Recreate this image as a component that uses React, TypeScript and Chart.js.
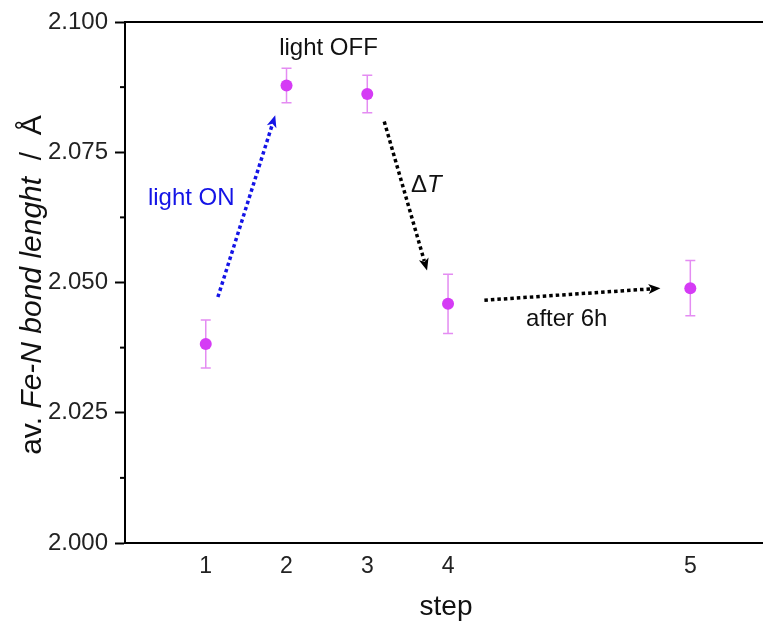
import React, { useEffect, useRef } from "react";
import { Chart, registerables } from "chart.js";

Chart.register(...registerables);

// x positions on the linear "step" axis and their printed labels
const stepPositions = [1, 2, 3, 4, 7];
const stepLabels = ["1", "2", "3", "4", "5"];

// average Fe-N bond length (Å) and its error
const bondLength = [2.0382, 2.0878, 2.0862, 2.0459, 2.0489];
const bondError = [0.0046, 0.0033, 0.0036, 0.0057, 0.0053];

const yTicks = [2.0, 2.025, 2.05, 2.075, 2.1];
const yMinorTicks = [2.0125, 2.0375, 2.0625, 2.0875];

// annotation arrows in data coordinates: [x0, y0, x1, y1]
const arrowBlue = [1.15, 2.0472, 1.86, 2.0821];
const arrowDeltaT = [3.21, 2.0809, 3.74, 2.0523];
const arrowAfter = [4.45, 2.0466, 6.63, 2.0489];

// annotation labels in data coordinates
const labelLightOn = [0.82, 2.0661];
const labelLightOff = [2.52, 2.0949];
const labelDeltaT = [3.73, 2.0687];
const labelAfter = [5.47, 2.043];

const FONT = "'Liberation Sans', Arial, sans-serif";

const decorPlugin = {
  id: "decor",
  beforeDatasetsDraw(chart: any) {
    const { ctx, scales } = chart;
    const xs = scales.x;
    const ys = scales.y;
    ctx.save();
    ctx.strokeStyle = "#e48cf2";
    ctx.lineWidth = 1.5;
    bondLength.forEach((v, i) => {
      const px = xs.getPixelForValue(stepPositions[i]);
      const top = ys.getPixelForValue(v + bondError[i]);
      const bot = ys.getPixelForValue(v - bondError[i]);
      ctx.beginPath();
      ctx.moveTo(px, top);
      ctx.lineTo(px, bot);
      ctx.moveTo(px - 5, top);
      ctx.lineTo(px + 5, top);
      ctx.moveTo(px - 5, bot);
      ctx.lineTo(px + 5, bot);
      ctx.stroke();
    });
    ctx.restore();
  },
  afterDraw(chart: any) {
    const { ctx, scales, chartArea } = chart;
    const xs = scales.x;
    const ys = scales.y;
    ctx.save();
    // top frame line
    ctx.strokeStyle = "#000";
    ctx.lineWidth = 2;
    ctx.beginPath();
    ctx.moveTo(chartArea.left - 1, chartArea.top);
    ctx.lineTo(chartArea.right, chartArea.top);
    ctx.stroke();
    // minor ticks
    yMinorTicks.forEach((v) => {
      const py = ys.getPixelForValue(v);
      ctx.beginPath();
      ctx.moveTo(chartArea.left - 5, py);
      ctx.lineTo(chartArea.left, py);
      ctx.stroke();
    });

    const drawArrow = (a: number[], color: string) => {
      const x0 = xs.getPixelForValue(a[0]);
      const y0 = ys.getPixelForValue(a[1]);
      const x1 = xs.getPixelForValue(a[2]);
      const y1 = ys.getPixelForValue(a[3]);
      const ang = Math.atan2(y1 - y0, x1 - x0);
      const head = 12;
      const hw = 5;
      const bx = x1 - head * Math.cos(ang);
      const by = y1 - head * Math.sin(ang);
      ctx.save();
      ctx.strokeStyle = color;
      ctx.fillStyle = color;
      ctx.lineWidth = 3.5;
      ctx.setLineDash([3.5, 3]);
      ctx.beginPath();
      ctx.moveTo(x0, y0);
      ctx.lineTo(bx + 2 * Math.cos(ang), by + 2 * Math.sin(ang));
      ctx.stroke();
      ctx.setLineDash([]);
      ctx.beginPath();
      ctx.moveTo(x1, y1);
      ctx.lineTo(bx + hw * Math.sin(ang), by - hw * Math.cos(ang));
      ctx.lineTo(bx + 3 * Math.cos(ang), by + 3 * Math.sin(ang));
      ctx.lineTo(bx - hw * Math.sin(ang), by + hw * Math.cos(ang));
      ctx.closePath();
      ctx.fill();
      ctx.restore();
    };
    drawArrow(arrowBlue, "#1414e6");
    drawArrow(arrowDeltaT, "#000");
    drawArrow(arrowAfter, "#000");

    const drawLabel = (p: number[], parts: [string, string][], color: string) => {
      const px = xs.getPixelForValue(p[0]);
      const py = ys.getPixelForValue(p[1]);
      ctx.save();
      ctx.fillStyle = color;
      ctx.textBaseline = "middle";
      ctx.textAlign = "left";
      let total = 0;
      parts.forEach(([t, f]) => {
        ctx.font = f;
        total += ctx.measureText(t).width;
      });
      let cx = px - total / 2;
      parts.forEach(([t, f]) => {
        ctx.font = f;
        ctx.fillText(t, cx, py);
        cx += ctx.measureText(t).width;
      });
      ctx.restore();
    };
    const reg = `24px ${FONT}`;
    const ital = `italic 24px ${FONT}`;
    drawLabel(labelLightOn, [["light ON", reg]], "#1414e6");
    drawLabel(labelLightOff, [["light OFF", reg]], "#111");
    drawLabel(labelDeltaT, [["\u0394", reg], ["T", ital]], "#111");
    drawLabel(labelAfter, [["after 6h", reg]], "#111");

    // y axis title (mixed styles)
    const yReg = `30px ${FONT}`;
    const yIt = `italic 30px ${FONT}`;
    const parts: [string, string][] = [
      ["av. ", yReg],
      ["Fe-N bond lenght", yIt],
      ["  /  \u00C5", yReg],
    ];
    ctx.save();
    ctx.translate(33, 285);
    ctx.rotate(-Math.PI / 2);
    ctx.fillStyle = "#111";
    ctx.textBaseline = "middle";
    ctx.textAlign = "left";
    let total = 0;
    parts.forEach(([t, f]) => {
      ctx.font = f;
      total += ctx.measureText(t).width;
    });
    let cx = -total / 2;
    parts.forEach(([t, f]) => {
      ctx.font = f;
      ctx.fillText(t, cx, 0);
      cx += ctx.measureText(t).width;
    });
    ctx.restore();

    // x axis title
    ctx.fillStyle = "#111";
    ctx.font = `28px ${FONT}`;
    ctx.textAlign = "center";
    ctx.textBaseline = "middle";
    ctx.fillText("step", 446, 607);
    ctx.restore();
  },
};

export default function App() {
  const ref = useRef<HTMLCanvasElement>(null);
  useEffect(() => {
    if (!ref.current) return;
    const chart = new Chart(ref.current, {
      type: "scatter",
      data: {
        datasets: [
          {
            data: bondLength.map((v, i) => ({ x: stepPositions[i], y: v })),
            backgroundColor: "#d53bf5",
            borderWidth: 0,
            pointRadius: 6,
            pointHoverRadius: 6,
            showLine: false,
          },
        ],
      },
      options: {
        animation: false,
        responsive: false,
        events: [],
        layout: { autoPadding: false, padding: { top: 22, right: 0, left: 0, bottom: 0 } },
        plugins: { legend: { display: false }, tooltip: { enabled: false } },
        scales: {
          x: {
            type: "linear",
            min: 0,
            max: 7.9,
            afterBuildTicks: (s: any) => {
              s.ticks = stepPositions.map((v) => ({ value: v }));
            },
            afterFit: (s: any) => {
              s.height = 80;
            },
            grid: { display: true, drawOnChartArea: false, drawTicks: false },
            border: { display: true, color: "#000", width: 2 },
            ticks: {
              padding: 10,
              color: "#222",
              font: { family: FONT, size: 23 },
              callback: (_v: any, i: number) => stepLabels[i],
            },
          },
          y: {
            type: "linear",
            min: 2.0,
            max: 2.1,
            afterBuildTicks: (s: any) => {
              s.ticks = yTicks.map((v) => ({ value: v }));
            },
            afterFit: (s: any) => {
              s.width = 125;
            },
            grid: {
              drawOnChartArea: false,
              drawTicks: true,
              tickLength: 10,
              tickWidth: 2,
              tickColor: "#000",
            },
            border: { display: true, color: "#000", width: 2 },
            ticks: {
              padding: 7,
              color: "#222",
              font: { family: FONT, size: 24 },
              callback: (v: any) => Number(v).toFixed(3),
            },
          },
        },
      },
      plugins: [decorPlugin],
    } as any);
    return () => chart.destroy();
  }, []);
  return (
    <div style={{ position: "fixed", left: 0, top: 0, width: 763, height: 623, background: "#fff" }}>
      <canvas ref={ref} width={763} height={623} style={{ width: 763, height: 623 }} />
    </div>
  );
}
